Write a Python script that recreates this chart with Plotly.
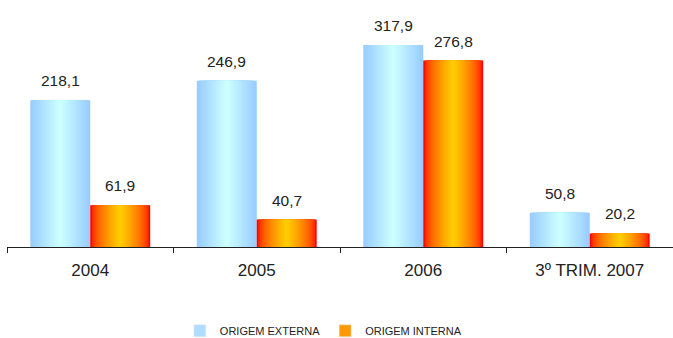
import plotly.graph_objects as go

categories = ["2004", "2005", "2006", "3º TRIM. 2007"]
externa = [218.1, 246.9, 317.9, 50.8]
interna = [61.9, 40.7, 276.8, 20.2]
series_names = ["ORIGEM EXTERNA", "ORIGEM INTERNA"]
y_max = 300

def hex2rgb(h):
    h = h.lstrip("#")
    return tuple(int(h[i:i + 2], 16) for i in (0, 2, 4))

def mix(a, b, t):
    ca, cb = hex2rgb(a), hex2rgb(b)
    return "rgb(%d,%d,%d)" % tuple(round(ca[i] + (cb[i] - ca[i]) * t) for i in range(3))

def fmt(v):
    return ("%.1f" % v).replace(".", ",")

fig = go.Figure()
W = 0.36
K = 20
specs = [
    (externa, series_names[0], "#99CCFF", "#CCFFFF", 1.0, -W / 2, "#B0DCFF"),
    (interna, series_names[1], "#FF0000", "#FFCC00", 0.55, W / 2, "#FF9900"),
]
for vals, name, edge, center, gam, cshift, legcol in specs:
    for k in range(K):
        f = k / K
        w = W * (1 - f)
        col = mix(edge, center, min(1.0, (f / 0.95)) ** gam)
        fig.add_trace(go.Bar(
            x=categories, y=vals, name=name,
            width=[w] * len(vals),
            offset=[cshift - w / 2] * len(vals),
            marker=dict(color=col, line=dict(width=0)),
            showlegend=False, legendgroup=name, hoverinfo="skip",
        ))
    fig.add_trace(go.Bar(
        x=[categories[0]], y=[None], name=name,
        marker=dict(color=legcol), showlegend=True, legendgroup=name,
    ))
    for i, v in enumerate(vals):
        fig.add_annotation(
            x=i + cshift, y=min(v, y_max), text=fmt(v), showarrow=False,
            xref="x", yref="y", yanchor="bottom", yshift=9,
            font=dict(family="Liberation Sans, Arial, sans-serif", size=15.5, color="#222222"),
        )

fig.update_layout(
    width=673, height=338,
    margin=dict(l=7, r=0, t=45, b=91, autoexpand=False),
    barmode="overlay",
    paper_bgcolor="white", plot_bgcolor="white",
    font=dict(family="Liberation Sans, Arial, sans-serif", color="#222222"),
    legend=dict(orientation="h", x=0.475, xanchor="center", y=-0.415, yanchor="middle",
                font=dict(size=11, color="#222222"), itemwidth=30,
                traceorder="normal"),
    showlegend=True,
)
fig.update_xaxes(
    type="category", categoryorder="array", categoryarray=categories,
    range=[-0.5, len(categories) - 0.5],
    showline=True, linecolor="#222222", linewidth=1,
    ticks="outside", tickson="boundaries", ticklen=5, tickcolor="#222222",
    tickfont=dict(size=17, color="#222222"), ticklabelstandoff=8,
    showgrid=False, zeroline=False,
)
fig.update_yaxes(range=[0, y_max], visible=False, showgrid=False, zeroline=False)

fig.write_html("out.html")
